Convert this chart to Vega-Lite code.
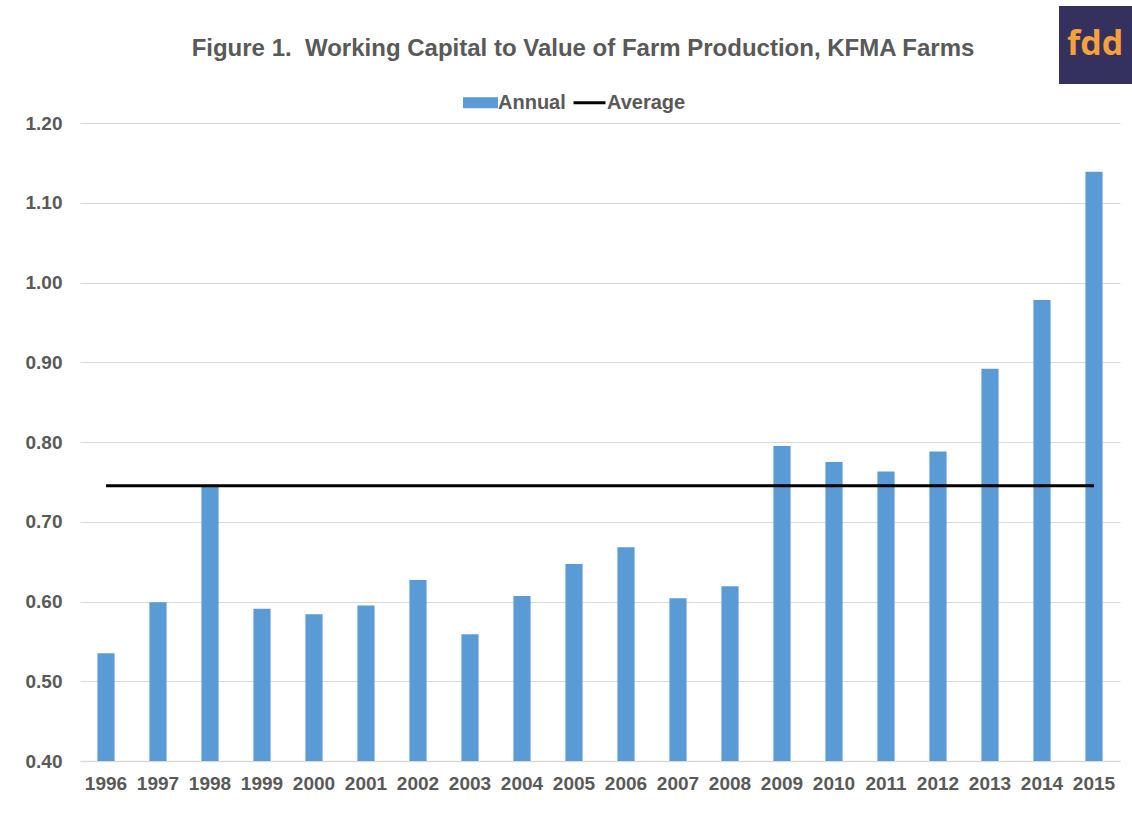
{
  "$schema": "https://vega.github.io/schema/vega-lite/v6.json",
  "width": 1040,
  "height": 638,
  "autosize": "none",
  "padding": {"left": 80, "top": 123, "right": 12, "bottom": 62},
  "background": "white",
  "config": {"view": {"stroke": null}},
  "title": {
    "text": "Figure 1.\u00a0 Working Capital to Value of Farm Production, KFMA Farms",
    "font": "Liberation Sans",
    "fontSize": 24,
    "fontWeight": "bold",
    "color": "#595959",
    "anchor": "middle",
    "baseline": "alphabetic",
    "dx": -17,
    "offset": -74
  },
  "data": {
    "values": [
      {"year": "1996", "annual": 0.535, "average": 0.745},
      {"year": "1997", "annual": 0.599, "average": 0.745},
      {"year": "1998", "annual": 0.744, "average": 0.745},
      {"year": "1999", "annual": 0.591, "average": 0.745},
      {"year": "2000", "annual": 0.584, "average": 0.745},
      {"year": "2001", "annual": 0.595, "average": 0.745},
      {"year": "2002", "annual": 0.627, "average": 0.745},
      {"year": "2003", "annual": 0.559, "average": 0.745},
      {"year": "2004", "annual": 0.607, "average": 0.745},
      {"year": "2005", "annual": 0.647, "average": 0.745},
      {"year": "2006", "annual": 0.668, "average": 0.745},
      {"year": "2007", "annual": 0.604, "average": 0.745},
      {"year": "2008", "annual": 0.619, "average": 0.745},
      {"year": "2009", "annual": 0.795, "average": 0.745},
      {"year": "2010", "annual": 0.775, "average": 0.745},
      {"year": "2011", "annual": 0.763, "average": 0.745},
      {"year": "2012", "annual": 0.788, "average": 0.745},
      {"year": "2013", "annual": 0.892, "average": 0.745},
      {"year": "2014", "annual": 0.978, "average": 0.745},
      {"year": "2015", "annual": 1.139, "average": 0.745}
    ]
  },
  "layer": [
    {
      "mark": {"type": "bar", "width": {"band": 0.33}},
      "encoding": {
        "x": {
          "field": "year",
          "type": "ordinal",
          "scale": {"paddingInner": 0, "paddingOuter": 0},
          "axis": {
            "title": null,
            "labelAngle": 0,
            "labelFont": "Liberation Sans",
            "labelFontSize": 19,
            "labelFontWeight": "bold",
            "labelColor": "#595959",
            "labelPadding": 13,
            "ticks": false,
            "domainColor": "#d9d9d9",
            "domainWidth": 1.5,
            "grid": false
          }
        },
        "y": {
          "field": "annual",
          "type": "quantitative",
          "scale": {"domain": [0.4, 1.2], "zero": false, "nice": false},
          "axis": {
            "title": null,
            "values": [0.4, 0.5, 0.6, 0.7, 0.8, 0.9, 1.0, 1.1, 1.2],
            "format": ".2f",
            "labelFont": "Liberation Sans",
            "labelFontSize": 19,
            "labelFontWeight": "bold",
            "labelColor": "#595959",
            "labelPadding": 18,
            "ticks": false,
            "domain": false,
            "gridColor": "#d9d9d9",
            "gridWidth": 1
          }
        },
        "y2": {"datum": 0.4},
        "color": {
          "datum": "Annual",
          "scale": {"domain": ["Annual", "Average"], "range": ["#5b9bd5", "#000000"]},
          "legend": {
            "orient": "none",
            "legendX": 383,
            "legendY": -38,
            "direction": "horizontal",
            "title": null,
            "labelFont": "Liberation Sans",
            "labelFontSize": 20,
            "labelFontWeight": "bold",
            "labelColor": "#595959",
            "symbolSize": 1024,
            "labelOffset": 0,
            "columnPadding": 1,
            "encode": {
              "symbols": {
                "update": {
                  "shape": {"signal": "datum.value === 'Annual' ? 'M-1,-0.25H1V0.25H-1Z' : 'M-1,0H1'"},
                  "fill": {"signal": "datum.value === 'Annual' ? '#5b9bd5' : 'transparent'"},
                  "stroke": {"signal": "datum.value === 'Annual' ? 'transparent' : '#000000'"},
                  "strokeWidth": {"value": 3},
                  "opacity": {"value": 1}
                }
              }
            }
          }
        }
      }
    },
    {
      "mark": {"type": "line", "strokeWidth": 3},
      "encoding": {
        "x": {"field": "year", "type": "ordinal"},
        "y": {"field": "average", "type": "quantitative"},
        "color": {"datum": "Average"},
        "strokeDash": {
          "datum": "fdd",
          "scale": {"range": [[1, 0]]},
          "legend": {
            "orient": "none",
            "legendX": 979,
            "legendY": -117,
            "title": null,
            "fillColor": "#34315f",
            "padding": 22,
            "symbolSize": 0,
            "symbolStrokeWidth": 0,
            "labelOffset": -48,
            "labelFont": "Open Sans",
            "labelFontSize": 34,
            "labelFontWeight": "bold",
            "labelColor": "#f6a13b",
            "encode": {"symbols": {"update": {"opacity": {"value": 0}}}}
          }
        }
      }
    }
  ]
}
